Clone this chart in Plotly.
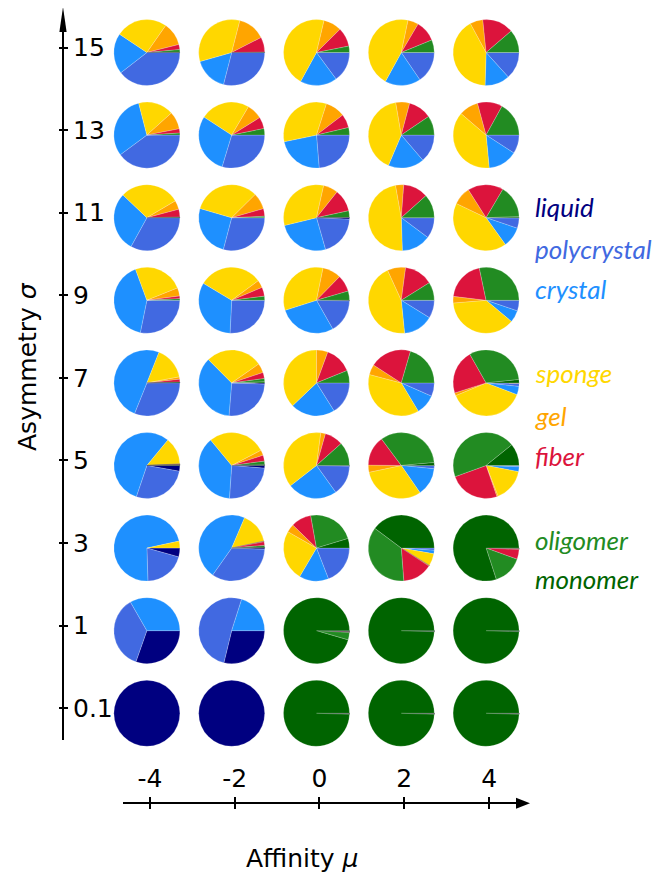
import plotly.graph_objects as go

# ---------------- data ----------------
categories = ["liquid", "polycrystal", "crystal", "sponge", "gel", "fiber", "oligomer", "monomer"]
colors = ["#000080", "#4169E1", "#1E90FF", "#FFD700", "#FFA500", "#DC143C", "#228B22", "#006400"]

mu_values = [-4, -2, 0, 2, 4]
sigma_labels = ["0.1", "1", "3", "5", "7", "9", "11", "13", "15"]

# each row: one pie per affinity mu (-4, -2, 0, 2, 4); shares in category order
pies_sigma_0_1 = [
    [100, 0, 0, 0, 0, 0, 0, 0],
    [100, 0, 0, 0, 0, 0, 0, 0],
    [0.05, 0.05, 0.05, 0.05, 0.05, 0.05, 0.2, 99.5],
    [0.05, 0.05, 0.05, 0.05, 0.05, 0.05, 0.2, 99.5],
    [0.05, 0.05, 0.05, 0.05, 0.05, 0.05, 0.2, 99.5],
]
pies_sigma_1 = [
    [30.4, 36.3, 33.3, 0, 0, 0, 0, 0],
    [28.8, 51.1, 20.1, 0, 0, 0, 0, 0],
    [0.1, 0.2, 0.1, 0.1, 0.1, 0.3, 3.6, 95.5],
    [0.05, 0.05, 0.05, 0.05, 0.05, 0.05, 0.2, 99.5],
    [0.05, 0.05, 0.05, 0.05, 0.05, 0.05, 0.2, 99.5],
]
pies_sigma_3 = [
    [4.3, 20.2, 72.1, 3.4, 0, 0, 0, 0],
    [0.6, 34.2, 46.6, 15.2, 0.3, 1.8, 0.9, 0.4],
    [0, 19.1, 14.4, 24.8, 4.0, 9.9, 23.1, 4.7],
    [0, 1.1, 1.7, 6.0, 0.4, 14.6, 36.4, 39.8],
    [0, 0.1, 0.1, 0.2, 0.3, 4.8, 14.5, 80.0],
]
pies_sigma_5 = [
    [2.8, 27.4, 55.8, 13.2, 0.4, 0.2, 0.2, 0],
    [1.3, 24.8, 37.9, 28.4, 2.6, 2.9, 1.7, 0.4],
    [0.4, 14.7, 24.4, 37.6, 2.3, 9.0, 11.6, 0],
    [0.1, 1.5, 13.8, 31.3, 3.5, 14.6, 33.8, 1.4],
    [0, 0.6, 2.4, 16.1, 0.6, 24.8, 44.7, 10.8],
]
pies_sigma_7 = [
    [0, 31.1, 49.9, 16.1, 1.1, 1.4, 0.4, 0],
    [0.6, 25.7, 36.2, 27.8, 4.6, 3.0, 1.6, 0.5],
    [0, 16.1, 21.8, 37.1, 5.6, 13.3, 6.1, 0],
    [0, 6.6, 9.8, 37.7, 5.0, 20.4, 20.5, 0],
    [0.2, 1.5, 4.1, 37.9, 1.4, 21.7, 31.6, 1.6],
]
pies_sigma_9 = [
    [0, 28.2, 41.2, 24.5, 4.0, 1.3, 0.8, 0],
    [0, 25.8, 32.8, 31.3, 3.7, 4.4, 2.0, 0],
    [0.3, 16.5, 28.3, 33.1, 9.1, 8.2, 4.5, 0],
    [0, 8.8, 14.6, 44.8, 8.9, 14.0, 8.9, 0],
    [0, 5.2, 5.9, 37.6, 3.2, 19.8, 28.3, 0],
]
pies_sigma_11 = [
    [0, 33.0, 29.1, 29.4, 4.4, 3.8, 0.3, 0],
    [0, 29.1, 25.4, 33.1, 8.0, 3.7, 0.7, 0],
    [0.8, 19.8, 25.6, 32.3, 7.2, 10.9, 3.3, 0.1],
    [0, 10.2, 14.3, 47.7, 4.0, 12.2, 11.6, 0],
    [0.2, 5.0, 9.9, 42.0, 8.9, 17.5, 16.0, 0.5],
]
pies_sigma_13 = [
    [0, 39.9, 31.1, 17.3, 8.6, 2.1, 1.0, 0],
    [0, 29.7, 29.5, 24.3, 7.6, 5.7, 3.2, 0],
    [0, 23.7, 23.1, 33.1, 9.7, 6.7, 3.7, 0],
    [0, 13.7, 17.7, 40.9, 6.8, 11.4, 9.5, 0],
    [0, 9.1, 14.4, 37.8, 9.5, 12.2, 17.0, 0],
]
pies_sigma_15 = [
    [0, 39.5, 19.9, 25.3, 11.4, 2.5, 1.3, 0.1],
    [0, 29.0, 16.6, 33.4, 13.5, 7.3, 0.2, 0],
    [0, 14.9, 18.1, 45.7, 8.9, 9.3, 3.1, 0],
    [0, 15.5, 17.5, 45.3, 5.2, 10.3, 6.2, 0],
    [0, 13.3, 12.2, 41.6, 6.3, 15.3, 11.3, 0],
]

rows = [pies_sigma_0_1, pies_sigma_1, pies_sigma_3, pies_sigma_5, pies_sigma_7,
        pies_sigma_9, pies_sigma_11, pies_sigma_13, pies_sigma_15]

# ---------------- layout geometry (page pixels) ----------------
OFF = 8                    # page body margin
W, H = 661 - OFF, 873 - OFF
X_LINE_Y = 803.3           # x-axis line (px from top of page)
X_DOM = (123, 517)         # x-axis extent in px
X_RANGE = (-4.634, 4.658)
Y_LINE_X = 63              # y-axis line (px from left of page)
Y_DOM = (740, 30)          # bottom, top in px from top of page
Y_RANGE = (-0.384, 8.212)
PIE_R = 33
PIE_DX, PIE_DY = -3, 5     # pie offset relative to tick position


def fx(x):
    return (x - OFF) / W


def fy(y):
    return 1 - (y - OFF) / H


def xpx(v):
    return X_DOM[0] + (v - X_RANGE[0]) / (X_RANGE[1] - X_RANGE[0]) * (X_DOM[1] - X_DOM[0])


def ypx(v):
    return Y_DOM[0] + (v - Y_RANGE[0]) / (Y_RANGE[1] - Y_RANGE[0]) * (Y_DOM[1] - Y_DOM[0])


fig = go.Figure()

for k, row in enumerate(rows):
    for mu, vals in zip(mu_values, row):
        cx = xpx(mu) + PIE_DX
        cy = ypx(k) + PIE_DY
        keep = [i for i, v in enumerate(vals) if v > 0]
        seam = ["rgba(255,255,255,0.4)" if vals[i] >= 0.5 else "rgba(95,95,115,0.9)" for i in keep]
        fig.add_trace(go.Pie(
            labels=[categories[i] for i in keep], values=[vals[i] for i in keep],
            marker=dict(colors=[colors[i] for i in keep],
                        line=dict(color=seam, width=0.5)),
            sort=False, direction="clockwise", rotation=90,
            textinfo="none", hoverinfo="label+percent", showlegend=False,
            domain=dict(x=[fx(cx - PIE_R), fx(cx + PIE_R)],
                        y=[fy(cy + PIE_R), fy(cy - PIE_R)]),
        ))

# invisible traces to activate the axes
fig.add_trace(go.Scatter(x=[mu_values[0]], y=[0], mode="markers", marker=dict(opacity=0),
                         xaxis="x", yaxis="y", showlegend=False, hoverinfo="skip"))
fig.add_trace(go.Scatter(x=[mu_values[0]], y=[0], mode="markers", marker=dict(opacity=0),
                         xaxis="x2", yaxis="y2", showlegend=False, hoverinfo="skip"))

tickfont = dict(family="DejaVu Sans", size=25, color="black")
common_x = dict(domain=[fx(X_DOM[0]), fx(X_DOM[1])], range=list(X_RANGE),
                tickvals=mu_values, ticktext=[str(m) for m in mu_values],
                anchor="free", position=fy(X_LINE_Y),
                showgrid=False, zeroline=False, ticklen=5, tickwidth=2, tickcolor="black")
common_y = dict(domain=[fy(Y_DOM[0]), fy(Y_DOM[1])], range=list(Y_RANGE),
                tickvals=list(range(len(sigma_labels))), ticktext=sigma_labels,
                anchor="free", position=fx(Y_LINE_X),
                showgrid=False, zeroline=False, ticklen=4, tickwidth=2, tickcolor="black")

fig.update_layout(
    width=W, height=H, autosize=False,
    margin=dict(l=0, r=0, t=0, b=0),
    paper_bgcolor="white", plot_bgcolor="rgba(0,0,0,0)",
    showlegend=False,
    xaxis=dict(**common_x, side="top", ticks="outside", showline=True, linewidth=2,
               linecolor="black", tickfont=tickfont),
    xaxis2=dict(**common_x, side="bottom", ticks="outside", overlaying="x",
                showticklabels=False, showline=False),
    yaxis=dict(**common_y, side="right", ticks="outside", showline=True, linewidth=2,
               linecolor="black", tickfont=tickfont),
    yaxis2=dict(**common_y, side="left", ticks="outside", overlaying="y",
                showticklabels=False, showline=False),
)


def P(x, y):
    return f"{fx(x):.5f},{fy(y):.5f}"


# arrow heads
fig.add_shape(type="path", xref="paper", yref="paper",
              path=f"M{P(516, X_LINE_Y - 5.5)} L{P(530, X_LINE_Y)} L{P(516, X_LINE_Y + 5.5)} Z",
              fillcolor="black", line=dict(width=0))
fig.add_shape(type="path", xref="paper", yref="paper",
              path=f"M{P(Y_LINE_X - 3.6, 32)} L{P(Y_LINE_X, 7)} L{P(Y_LINE_X + 3.6, 32)} Z",
              fillcolor="black", line=dict(width=0))

# axis titles
fig.add_annotation(text="Affinity <i>μ</i>", x=fx(302), y=fy(858), xref="paper", yref="paper",
                   showarrow=False, font=dict(family="DejaVu Sans", size=25, color="black"),
                   xanchor="center", yanchor="middle")
fig.add_annotation(text="Asymmetry <i>σ</i>", x=fx(28), y=fy(367), xref="paper", yref="paper",
                   showarrow=False, textangle=-90,
                   font=dict(family="DejaVu Sans", size=25, color="black"),
                   xanchor="center", yanchor="middle")

# colored category legend
legend_y = [207, 249, 289, 373, 416, 456, 540, 579]
for name, col, ly in zip(categories, colors, legend_y):
    fig.add_annotation(text=f"<i>{name}</i>", x=fx(533), y=fy(ly), xref="paper", yref="paper",
                       showarrow=False, font=dict(family="Lato", size=26, color=col),
                       xanchor="left", yanchor="middle")

fig.write_html("out.html")
